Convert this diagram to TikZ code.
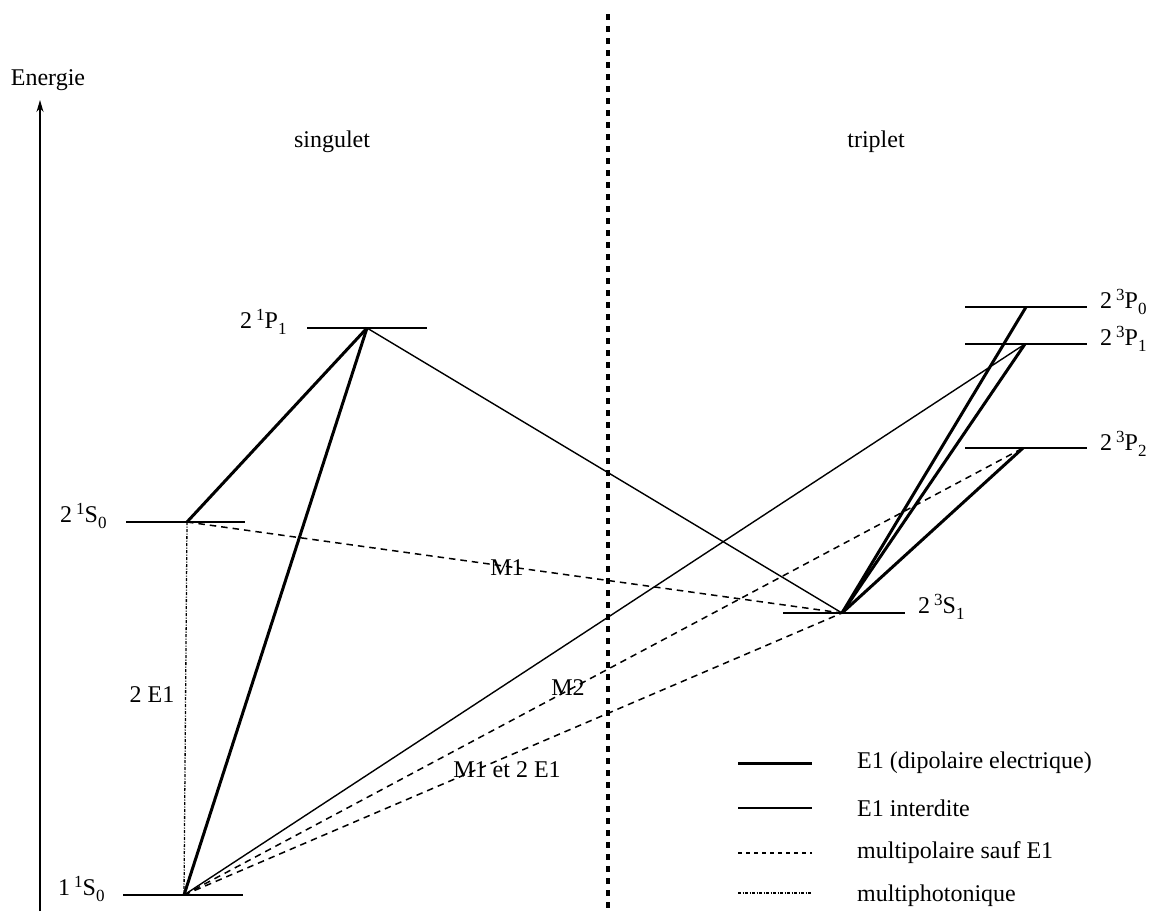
\documentclass[tikz,border=0pt]{standalone}
\usepackage{fontspec}
\setmainfont{Liberation Serif}
\usetikzlibrary{arrows.meta}
\newcommand\supx[1]{\raisebox{8pt}{\fontsize{17}{17}\selectfont #1}}
\newcommand\subx[1]{\raisebox{-6pt}{\fontsize{17}{17}\selectfont #1}}
\begin{document}
\begin{tikzpicture}[x=1pt,y=-1pt,
  txt/.style={font=\fontsize{24}{28}\selectfont, inner sep=0pt},
  lvl/.style={line width=1.6pt},
  allowed/.style={line width=3pt},
  forbid/.style={line width=1.4pt},
  multipol/.style={line width=1.5pt, dash pattern=on 6.5pt off 5pt},
  multiphot/.style={line width=1.3pt, dash pattern=on 3pt off 1.5pt on 1pt off 1.5pt},
  divider/.style={line width=4pt, dash pattern=on 6pt off 6pt}]
\useasboundingbox (0,0) rectangle (1149,911);
% axis
\coordinate (axb) at (40,911);
\coordinate (axt) at (40,100);
\draw[line width=1.4pt,-{Stealth[length=12pt,width=7pt]}] (axb) -- (axt);
\node[txt] (energie) at (48,80) {Energie};
% divider
\coordinate (divt) at (608,14);
\coordinate (divb) at (608,911);
\draw[divider] (divt) -- (divb);
\node[txt] (sing) at (332,142) {singulet};
\node[txt] (trip) at (876,142) {triplet};
% levels
\coordinate (P1s) at (367,328);
\coordinate (S0b) at (187,522);
\coordinate (S0g) at (184,895);
\coordinate (S1t) at (842,613);
\coordinate (P0t) at (1026,307);
\coordinate (P1t) at (1025,344);
\coordinate (P2t) at (1023,448);
\draw[lvl] (307,328) -- (427,328);
\draw[lvl] (126,522) -- (245,522);
\draw[lvl] (123,895) -- (243,895);
\draw[lvl] (783,613) -- (905,613);
\draw[lvl] (965,307) -- (1087,307);
\draw[lvl] (965,344) -- (1087,344);
\draw[lvl] (965,448) -- (1087,448);
\node[txt,anchor=base west] (lP1s) at (240,328) {2\,\supx{1}P\subx{1}};
\node[txt,anchor=base west] (lS0b) at (60,522) {2\,\supx{1}S\subx{0}};
\node[txt,anchor=base west] (lS0g) at (58,895) {1\,\supx{1}S\subx{0}};
\node[txt,anchor=base west] (lS1t) at (918,613) {2\,\supx{3}S\subx{1}};
\node[txt,anchor=base west] (lP0t) at (1100,308) {2\,\supx{3}P\subx{0}};
\node[txt,anchor=base west] (lP1t) at (1100,345) {2\,\supx{3}P\subx{1}};
\node[txt,anchor=base west] (lP2t) at (1100,450) {2\,\supx{3}P\subx{2}};
% transitions
\draw[allowed] (S0b) -- (P1s);
\draw[allowed] (S0g) -- (P1s);
\draw[forbid] (P1s) -- (S1t);
\draw[forbid] (S0g) -- (P1t);
\draw[multipol] (S0b) -- (S1t);
\draw[multipol] (S0g) -- (P2t);
\draw[multipol] (S0g) -- (S1t);
\draw[multiphot] (S0b) -- (S0g);
\draw[allowed] (S1t) -- (P0t);
\draw[allowed] (S1t) -- (P1t);
\draw[allowed] (S1t) -- (P2t);
\node[txt] (lm1) at (507,568) {M1};
\node[txt] (lm2) at (568,688) {M2};
\node[txt] (lm12) at (507,770) {M1 et 2 E1};
\node[txt] (l2e1) at (152,695) {2 E1};
% legend
\coordinate (g1a) at (738,763); \coordinate (g1b) at (812,763);
\coordinate (g2a) at (738,808); \coordinate (g2b) at (812,808);
\coordinate (g3a) at (738,853); \coordinate (g3b) at (812,853);
\coordinate (g4a) at (738,893); \coordinate (g4b) at (812,893);
\draw[allowed] (g1a) -- (g1b);
\draw[forbid] (g2a) -- (g2b);
\draw[line width=1.2pt, dash pattern=on 4pt off 4pt] (g3a) -- (g3b);
\draw[multiphot] (g4a) -- (g4b);
\node[txt,anchor=west] (t1) at (857,763) {E1 (dipolaire electrique)};
\node[txt,anchor=west] (t2) at (857,808) {E1 interdite};
\node[txt,anchor=west] (t3) at (857,853) {multipolaire sauf E1};
\node[txt,anchor=west] (t4) at (857,896) {multiphotonique};
\end{tikzpicture}
\end{document}
